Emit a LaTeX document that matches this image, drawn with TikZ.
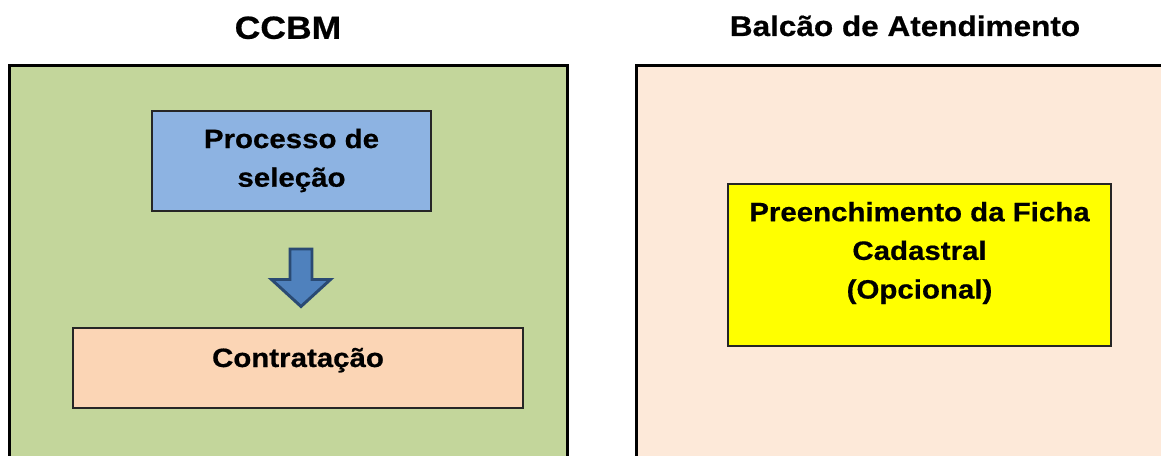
\documentclass[tikz,border=0pt]{standalone}
\usepackage{fontspec}
\setmainfont{Liberation Sans}[FakeStretch=1.11, BoldFeatures={FakeBold=0.6}]
\definecolor{cgreen}{HTML}{C3D69B}
\definecolor{cblue}{HTML}{8DB3E2}
\definecolor{cpeach}{HTML}{FBD5B5}
\definecolor{clight}{HTML}{FDE9D9}
\definecolor{cyellow}{HTML}{FFFF00}
\definecolor{arrowfill}{HTML}{4F81BD}
\definecolor{arrowline}{HTML}{2A4A73}
\tikzset{
  panel/.style={draw=black, line width=2pt},
  box/.style={draw=black!85, line width=0.9pt, inner sep=0pt},
  boxtext/.style={font=\bfseries\fontsize{19.9}{29}\selectfont, align=center, inner sep=0pt},
  title/.style={font=\bfseries, inner sep=0pt, anchor=base},
}
\begin{document}
\begin{tikzpicture}[x=0.75pt,y=-0.75pt]
\useasboundingbox (0,0) rectangle (1161,456);
\clip (0,0) rectangle (1161,456);
% panels
\path[panel, fill=cgreen] (9.5,65.5) rectangle (567.5,480);
\path[panel, fill=clight] (636.5,65.5) rectangle (1200,480);
% titles
\node[title, font=\bfseries\fontsize{24}{28}\selectfont] (t1) at (288,38.8) {CCBM};
\node[title, font=\bfseries\fontsize{21.3}{26}\selectfont] (t2) at (905,36) {Balcão de Atendimento};
% boxes
\node[box, fill=cblue, minimum width=279*0.75pt, minimum height=100*0.75pt] (sel) at (291.5,161) {};
\node[boxtext] (seltxt) at (291.5,160.5) {Processo de\\seleção};
\node[box, fill=cpeach, minimum width=450*0.75pt, minimum height=80*0.75pt] (con) at (298,368) {};
\node[boxtext, anchor=base] (contxt) at (298,367) {Contratação};
\node[box, fill=cyellow, minimum width=383*0.75pt, minimum height=162*0.75pt] (fic) at (919.5,265) {};
\node[boxtext] (fictxt) at (919.5,253) {Preenchimento da Ficha\\Cadastral\\(Opcional)};
% block arrow
\draw[draw=arrowline, fill=arrowfill, line width=2.2pt, line join=miter]
  (290,249) -- (312,249) -- (312,279.5) -- (330.5,279.5) -- (301,306.5) -- (271.5,279.5) -- (290,279.5) -- cycle;
\end{tikzpicture}
\end{document}
